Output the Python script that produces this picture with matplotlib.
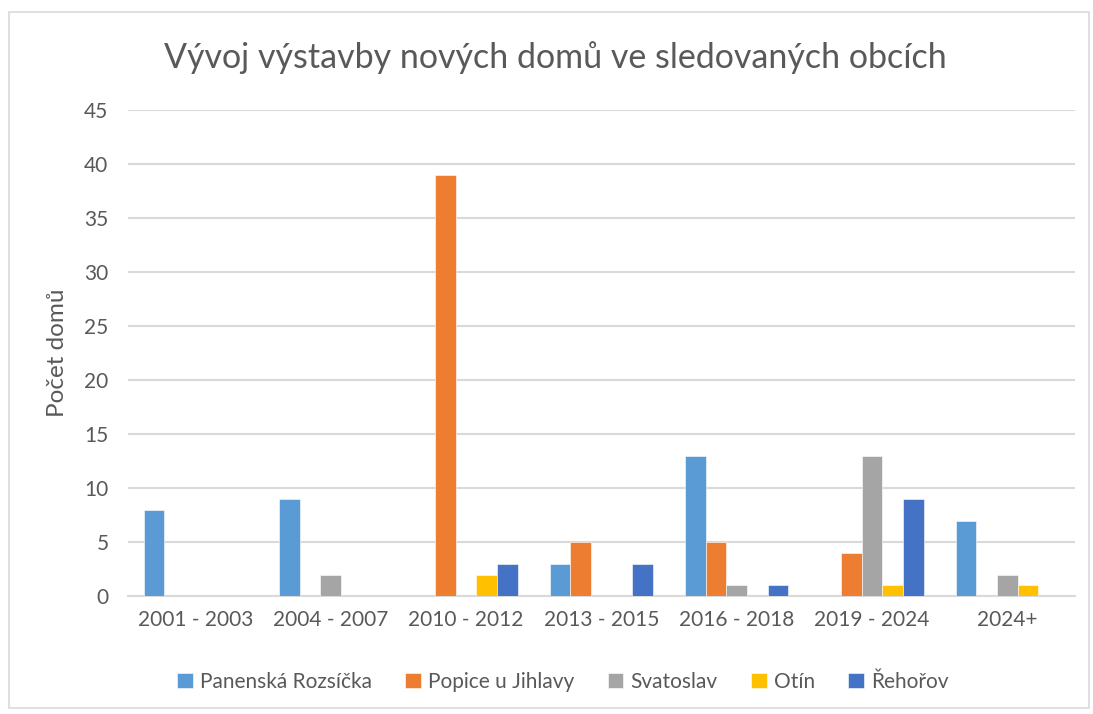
import numpy as np
import matplotlib
matplotlib.use("Agg")
import matplotlib.pyplot as plt
from matplotlib.patches import Rectangle

plt.rcParams['font.family'] = ['Lato', 'DejaVu Sans']

categories = ["2001 - 2003", "2004 - 2007", "2010 - 2012", "2013 - 2015",
              "2016 - 2018", "2019 - 2024", "2024+"]
series_names = ["Panenská Rozsíčka", "Popice u Jihlavy", "Svatoslav", "Otín", "Řehořov"]
panenska = [8, 9, 0, 3, 13, 0, 7]
popice = [0, 0, 39, 5, 5, 4, 0]
svatoslav = [0, 2, 0, 0, 1, 13, 2]
otin = [0, 0, 2, 0, 0, 1, 1]
rehorov = [0, 0, 3, 3, 1, 9, 0]
colors = ["#5B9BD5", "#ED7D31", "#A5A5A5", "#FFC000", "#4472C4"]

TXT = "#595959"
GRID = "#D9D9D9"

fig = plt.figure(figsize=(10.93, 7.14), dpi=100)
ax = fig.add_axes([0.117, 0.165, 0.8665, 0.681])

x = np.arange(len(categories))
w = 0.153
for i, (vals, name, c) in enumerate(zip([panenska, popice, svatoslav, otin, rehorov],
                                        series_names, colors)):
    ax.bar(x + (i - 2) * w, vals, width=w, color=c, label=name,
           edgecolor="white", linewidth=0.4, zorder=3)

ax.set_xlim(-0.5, len(categories) - 0.5)
ax.set_ylim(0, 45)
ax.set_yticks(range(0, 46, 5))
ax.set_xticks(x)
ax.set_xticklabels(categories)
ax.yaxis.grid(True, color=GRID, linewidth=1.5, zorder=0)
for s in ["top", "right", "left"]:
    ax.spines[s].set_visible(False)
ax.spines["bottom"].set_color(GRID)
ax.spines["bottom"].set_linewidth(1.5)
ax.tick_params(axis="both", length=0, labelsize=15, colors=TXT)
ax.tick_params(axis="y", pad=14)
ax.tick_params(axis="x", pad=10)
ax.set_ylabel("Počet domů", fontsize=17.5, color=TXT, labelpad=12)

fig.text(0.508, 0.92, "Vývoj výstavby nových domů ve sledovaných obcích",
         ha="center", va="center", fontsize=24.5, color=TXT)

leg = fig.legend(loc="center", bbox_to_anchor=(0.515, 0.045), ncol=5, frameon=False,
                 fontsize=15, handlelength=0.75, handleheight=0.75,
                 handletextpad=0.35, columnspacing=1.6)
for t in leg.get_texts():
    t.set_color(TXT)

fig.patches.append(Rectangle((0.008, 0.008), 0.988, 0.975, transform=fig.transFigure,
                             fill=False, edgecolor="#D9D9D9", linewidth=1.2))

fig.savefig("out.png", dpi=100)
